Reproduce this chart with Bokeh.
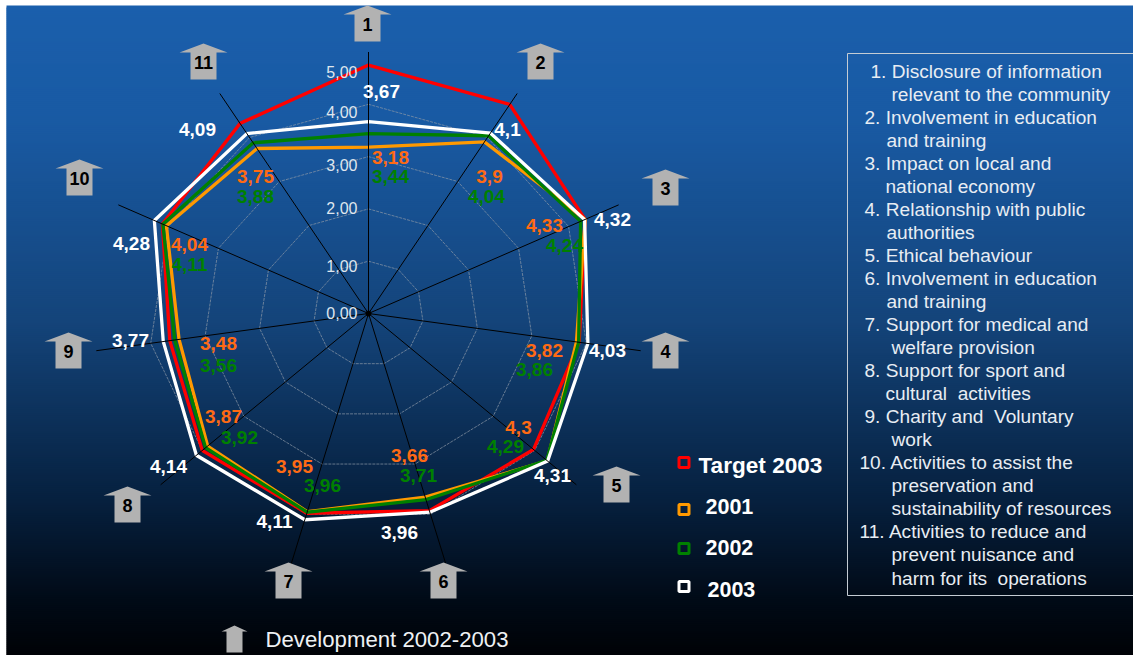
import math
from bokeh.plotting import figure
from bokeh.models import Range1d
from bokeh.core.properties import value
from bokeh.embed import file_html
from bokeh.resources import INLINE

# ---- data ----
axes_no = ["1", "2", "3", "4", "5", "6", "7", "8", "9", "10", "11"]
target_2003 = [4.75, 4.75, 4.33, 3.87, 3.97, 3.93, 3.98, 4.00, 3.65, 4.12, 4.32]
y2001 = [3.18, 3.9, 4.33, 3.82, 4.3, 3.66, 3.95, 3.87, 3.48, 4.04, 3.75]
y2002 = [3.44, 4.04, 4.24, 3.86, 4.29, 3.71, 3.96, 3.92, 3.56, 4.11, 3.88]
y2003 = [3.67, 4.1, 4.32, 4.03, 4.31, 3.96, 4.11, 4.14, 3.77, 4.28, 4.09]
ring_values = [1, 2, 3, 4]
ring_ticks = ["0,00", "1,00", "2,00", "3,00", "4,00", "5,00"]
legend_names = ["Target 2003", "2001", "2002", "2003"]
panel_lines = [
    "1. Disclosure of information", "relevant to the community",
    "2. Involvement in education", "and training",
    "3. Impact on local and", "national economy",
    "4. Relationship with public", "authorities",
    "5. Ethical behaviour",
    "6. Involvement in education", "and training",
    "7. Support for medical and", "welfare provision",
    "8. Support for sport and", "cultural \u00a0activities",
    "9. Charity and \u00a0Voluntary", "work",
    "10. Activities to assist the", "preservation and", "sustainability of resources",
    "11. Activities to reduce and", "prevent nuisance and", "harm for its \u00a0operations",
]
footer = "Development 2002-2003"

# ---- layout (page pixels) ----
W, H = 1133, 655
OX, OY = 0, 0
CX, CY, KX, KY = 368, 313, 55.0, 52.3
AXIS_MAX = 5
FONT = value("Liberation Sans")
RED, ORANGE, GREEN, WHITE = "#ff0000", "#ff9900", "#008000", "#ffffff"
LBL_OR, LBL_GR = "#ff6a14", "#008000"

p = figure(width=W, height=H, x_range=Range1d(OX, OX + W), y_range=Range1d(OY + H, OY),
           toolbar_location=None, output_backend="svg", min_border=0,
           outline_line_color=None)
p.axis.visible = False
p.grid.visible = False
p.background_fill_color = "#ffffff"
p.border_fill_color = "#ffffff"

# gradient background
stops = [(5, (26, 95, 172)), (120, (25, 90, 163)), (320, (20, 68, 122)),
         (500, (6, 32, 62)), (600, (1, 10, 22)), (655, (0, 2, 6))]
def bg(y):
    for (y0, c0), (y1, c1) in zip(stops, stops[1:]):
        if y <= y1:
            t = (y - y0) / (y1 - y0)
            return "#%02x%02x%02x" % tuple(round(a + (b - a) * t) for a, b in zip(c0, c1))
    return "#000000"
rows = list(range(5, 655, 2))
p.quad(left=6, right=1133, top=rows, bottom=[r + 4 for r in rows],
       fill_color=[bg(r) for r in rows], line_color=None)

n = len(axes_no)
def pt(v, i):
    a = 2 * math.pi * i / n
    return CX + v * KX * math.sin(a), CY - v * KY * math.cos(a)
def poly(vals):
    pts = [pt(v, i) for i, v in enumerate(vals)]
    pts.append(pts[0])
    return [q[0] for q in pts], [q[1] for q in pts]

# rings
for r in ring_values:
    xs, ys = poly([r] * n)
    p.line(xs, ys, line_color="#8e9aa8", line_width=0.7, line_dash="3 1")

# series (legend order is drawing order)
for vals, col in [(target_2003, RED), (y2001, ORANGE), (y2002, GREEN), (y2003, WHITE)]:
    xs, ys = poly(vals)
    p.line(xs, ys, line_color=col, line_width=3.3, line_join="miter")

# spokes
for i in range(n):
    ex, ey = pt(AXIS_MAX, i)
    p.line([CX, ex], [CY, ey], line_color="#000000", line_width=1)
p.scatter([CX], [CY], size=5, color="#000000")

# value-axis tick labels
tick_y = [312, 265, 207, 164, 111, 71]
p.text([357] * 6, tick_y, text=ring_ticks, text_font=FONT, text_font_size="16px",
       text_color="#dfe6ee", text_align="right", text_baseline="middle")

# arrows
def arrow(tx, ty, head_w=48, body_w=26, head_h=9, total=36):
    p.patch([tx, tx + head_w / 2, tx + body_w / 2, tx + body_w / 2, tx - body_w / 2, tx - body_w / 2, tx - head_w / 2],
            [ty, ty + head_h, ty + head_h, ty + total, ty + total, ty + head_h, ty + head_h],
            fill_color="#b2b2b2", line_color=None)
arrow_x = [367, 540, 665, 665, 616, 443, 288, 127, 68, 79, 203]
arrow_y = [5, 43, 169, 332, 466, 562, 562, 486, 332, 159, 43]
for x, y in zip(arrow_x, arrow_y):
    arrow(x, y)
p.text(arrow_x, [y + 19 for y in arrow_y], text=axes_no, text_font=FONT, text_font_size="18px",
       text_font_style="bold", text_color="#000000", text_align="center", text_baseline="middle")
arrow(234, 625, head_w=26, body_w=16, head_h=6, total=27)

# data labels
def fmt(v):
    return str(v).replace(".", ",")
white_pos = [(381, 91), (507, 129), (612, 219), (607, 350), (552, 475), (399, 532), (274, 521), (168, 466), (130, 340), (131, 243), (197, 129)]
orange_pos = [(390, 157), (489, 176), (544, 225), (544, 350), (518, 427), (409, 455), (294, 466), (223, 416), (218, 343), (189, 244), (255, 176)]
green_pos = [(390, 176), (486, 196), (564, 245), (534, 369), (505, 446), (418, 475), (322, 485), (239, 437), (218, 365), (189, 264), (255, 196)]
for vals, pos, col in [(y2003, white_pos, "#ffffff"), (y2001, orange_pos, LBL_OR), (y2002, green_pos, LBL_GR)]:
    p.text([q[0] for q in pos], [q[1] for q in pos], text=[fmt(v) for v in vals], text_font=FONT,
           text_font_size="19px", text_font_style="bold", text_color=col,
           text_align="center", text_baseline="middle")

# legend
leg_sq_y = [462, 509, 548, 586]
leg_txt_x = [698, 705, 705, 707]
leg_txt_y = [465, 506, 547, 589]
p.scatter([683.5] * 4, leg_sq_y, marker="square", size=10, fill_color=None,
          line_color=[RED, ORANGE, GREEN, WHITE], line_width=3)
p.text(leg_txt_x[:1], leg_txt_y[:1], text=legend_names[:1], text_font=FONT, text_font_size="22.6px",
       text_font_style="bold", text_color="#ffffff", text_baseline="middle")
p.text(leg_txt_x[1:], leg_txt_y[1:], text=legend_names[1:], text_font=FONT, text_font_size="21.5px",
       text_font_style="bold", text_color="#ffffff", text_baseline="middle")

# numbered panel
p.line([1133, 847, 847, 1133, 1133], [53, 53, 595, 595, 53], line_color="#c4ccd4", line_width=1)
line_x = [870, 891, 864, 886, 864, 885, 864, 886, 864, 864, 886, 864, 891, 864, 885, 864, 891, 859, 891, 891, 859, 891, 891]
line_y = [71, 94, 117, 140, 163, 186, 209, 232, 255, 278, 301, 324, 347, 370, 393, 416, 439, 462, 485, 508, 531, 554, 578]
p.text(line_x, line_y, text=panel_lines, text_font=FONT, text_font_size="19.1px",
       text_color="#e8edf3", text_baseline="middle")

# footer
p.text([265], [639], text=[footer], text_font=FONT, text_font_size="22.2px",
       text_color="#eef1f4", text_baseline="middle")

open("out.html", "w").write(file_html(p, INLINE))
